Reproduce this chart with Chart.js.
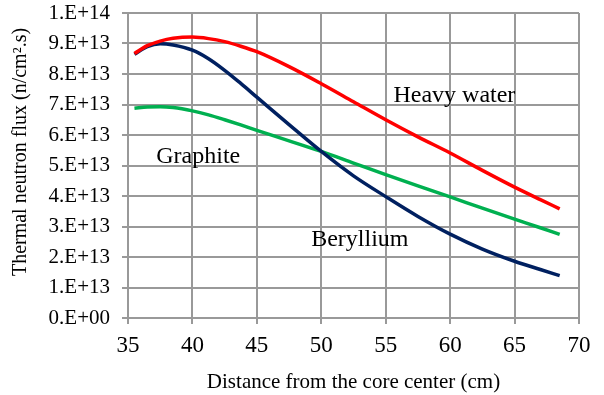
<!DOCTYPE html>
<html lang="en">
<head>
  <meta charset="UTF-8">
  <title>Thermal neutron flux</title>
  <script src="https://cdn.jsdelivr.net/npm/chart.js"></script>
  <style>
    html, body { margin: 0; padding: 0; background: #fff; }
    #wrap { width: 604px; height: 395px; }
  </style>
</head>
<body>
  <div id="wrap"><canvas id="fluxChart" width="604" height="395"></canvas></div>

  <script>
    // distance from core center (cm)
    const distance = [35.5, 36.5, 37.5, 38.5, 40, 41.25, 42.5, 43.75, 45, 47.5, 50, 52.5, 55, 57.5, 60, 62.5, 65, 67, 68.5];

    // flux values in units of 1e13 n/cm2.s
    const heavyWater = [8.67, 8.93, 9.08, 9.17, 9.21, 9.16, 9.06, 8.91, 8.73, 8.24, 7.68, 7.09, 6.50, 5.94, 5.41, 4.84, 4.29, 3.88, 3.58];
    const beryllium  = [8.65, 8.90, 8.99, 8.95, 8.78, 8.50, 8.12, 7.69, 7.24, 6.34, 5.46, 4.66, 3.98, 3.33, 2.75, 2.26, 1.86, 1.59, 1.39];
    const graphite   = [6.88, 6.92, 6.93, 6.90, 6.79, 6.66, 6.50, 6.33, 6.15, 5.81, 5.46, 5.08, 4.70, 4.33, 3.97, 3.60, 3.24, 2.96, 2.74];

    const seriesNames = ['Heavy water', 'Beryllium', 'Graphite'];
    const xTicks = [35, 40, 45, 50, 55, 60, 65, 70];
    const yTicks = [0, 1, 2, 3, 4, 5, 6, 7, 8, 9, 10];

    // in-plot labels (data coords, x = center, y = baseline)
    const labelX = [60.33, 52.99, 40.45];
    const labelY = [7.09, 2.37, 5.08];

    const SCALE = 1e13;
    const serif = 'Liberation Serif';
    const gridColor = '#999999';

    Chart.defaults.font.family = serif;
    Chart.defaults.color = '#000';

    function toPoints(ys) {
      return distance.map((x, i) => ({ x: x, y: ys[i] * SCALE }));
    }

    function sciLabel(v) {
      if (v === 0) return '0.E+00';
      const exp = Math.floor(Math.log10(v) + 1e-9);
      const m = Math.round(v / Math.pow(10, exp));
      return m + '.E+' + String(exp).padStart(2, '0');
    }

    const labelPlugin = {
      id: 'curveLabels',
      afterDatasetsDraw(chart) {
        const { ctx, scales } = chart;
        ctx.save();
        ctx.font = '24px "' + serif + '"';
        ctx.fillStyle = '#000';
        ctx.textAlign = 'center';
        ctx.textBaseline = 'alphabetic';
        seriesNames.forEach((name, i) => {
          ctx.fillText(name, scales.x.getPixelForValue(labelX[i]), scales.y.getPixelForValue(labelY[i] * SCALE));
        });
        ctx.restore();
      }
    };

    // y title drawn by hand so it sits where the original does
    const yTitlePlugin = {
      id: 'yTitle',
      afterDraw(chart) {
        const { ctx } = chart;
        ctx.save();
        ctx.translate(21, 152);
        ctx.rotate(-Math.PI / 2);
        ctx.font = '20px "' + serif + '"';
        ctx.fillStyle = '#000';
        ctx.textAlign = 'center';
        ctx.textBaseline = 'middle';
        ctx.fillText('Thermal neutron flux (n/cm\u00B2.s)', 0, 0);
        ctx.restore();
      }
    };

    const ctx = document.getElementById('fluxChart').getContext('2d');
    new Chart(ctx, {
      type: 'scatter',
      data: {
        datasets: [
          { label: seriesNames[0], data: toPoints(heavyWater), borderColor: '#FF0000', borderWidth: 3.5 },
          { label: seriesNames[1], data: toPoints(beryllium), borderColor: '#002060', borderWidth: 3.5 },
          { label: seriesNames[2], data: toPoints(graphite), borderColor: '#00B050', borderWidth: 3.5 }
        ].map(d => Object.assign(d, {
          showLine: true,
          pointRadius: 0,
          pointHoverRadius: 0,
          cubicInterpolationMode: 'monotone',
          fill: false
        }))
      },
      options: {
        responsive: false,
        animation: false,
        layout: { padding: { top: 13, right: 25, left: 0, bottom: 0 } },
        plugins: {
          legend: { display: false },
          tooltip: { enabled: false }
        },
        scales: {
          x: {
            type: 'linear',
            min: 35,
            max: 70,
            afterBuildTicks: s => { s.ticks = xTicks.map(v => ({ value: v })); },
            afterFit: s => { s.height = 77; s.paddingLeft = 0; s.paddingRight = 0; },
            grid: { color: gridColor, lineWidth: 2, tickLength: 6 },
            border: { color: gridColor, width: 2 },
            ticks: { color: '#000', font: { family: serif, size: 23 }, padding: 8, maxRotation: 0 },
            title: {
              display: true,
              text: 'Distance from the core center (cm)',
              color: '#000',
              font: { family: serif, size: 21 },
              padding: { top: 2, bottom: 0 }
            }
          },
          y: {
            type: 'linear',
            min: 0,
            max: 10 * SCALE,
            afterBuildTicks: s => { s.ticks = yTicks.map(v => ({ value: v * SCALE })); },
            afterFit: s => { s.width = 128; s.paddingTop = 0; s.paddingBottom = 0; },
            grid: { color: gridColor, lineWidth: 2, tickLength: 6 },
            border: { color: gridColor, width: 2 },
            ticks: {
              color: '#000',
              font: { family: serif, size: 21 },
              padding: 12,
              callback: v => sciLabel(v)
            }
          }
        }
      },
      plugins: [labelPlugin, yTitlePlugin]
    });
  </script>
</body>
</html>
